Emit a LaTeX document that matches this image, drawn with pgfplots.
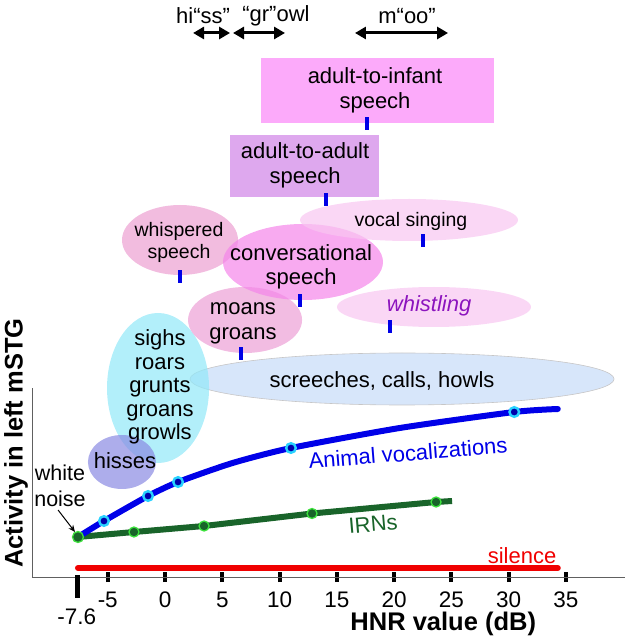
\documentclass[border=0pt]{standalone}
\usepackage{fontspec}
\setmainfont{Liberation Sans}
\usepackage{pgfplots}
\pgfplotsset{compat=1.18}
\usetikzlibrary{arrows.meta}
\definecolor{lineblue}{RGB}{0,0,232}
\definecolor{markblue}{RGB}{0,0,170}
\definecolor{ringcyan}{RGB}{40,210,255}
\definecolor{irngreen}{RGB}{25,100,42}
\definecolor{irnring}{RGB}{60,225,60}
\definecolor{silred}{RGB}{240,0,0}
\definecolor{hnrblue}{RGB}{0,0,230}
\definecolor{boxinfant}{RGB}{252,170,250}
\definecolor{boxadult}{RGB}{222,168,238}
\definecolor{elcyan}{RGB}{145,232,248}
\definecolor{elhiss}{RGB}{138,138,226}
\definecolor{elscreech}{RGB}{198,219,248}
\definecolor{elwhisper}{RGB}{236,160,210}
\definecolor{elmoan}{RGB}{236,160,214}
\definecolor{elconv}{RGB}{245,134,234}
\definecolor{elvocal}{RGB}{248,198,241}
\definecolor{whistlepurple}{RGB}{140,20,190}
\newcommand{\fs}{\fontsize{22}{25}\selectfont}
\begin{document}
\begin{tikzpicture}
\begin{axis}[
  scale only axis, width=593pt, height=189pt,
  xmin=-11.616, xmax=40.17, ymin=0, ymax=189,
  clip=false,
  axis x line=bottom, axis y line=left,
  axis line style={-, draw=gray!75!black, line width=0.8pt},
  ytick=\empty,
  xtick={-5,0,5,10,15,20,25,30,35},
  xticklabels={-5,0,5,10,15,20,25,30,35},
  major tick length=10pt, tick align=center,
  tick style={line width=4pt, black},
  xticklabel style={font=\fontsize{22.5}{26}\selectfont, inner sep=0pt, anchor=north, yshift=-10pt},
]
% ellipses
\fill[elscreech, fill opacity=0.7] (axis cs:20.70,198) ellipse [x radius=212pt, y radius=26pt];
\draw[gray!45, line width=0.6pt] (axis cs:20.70,198) ellipse [x radius=212pt, y radius=26pt];
\fill[elcyan, fill opacity=0.7] (axis cs:-0.61,189) ellipse [x radius=51pt, y radius=75pt];
\fill[elhiss, fill opacity=0.7] (axis cs:-3.76,115) ellipse [x radius=34pt, y radius=27pt];
\fill[elmoan, fill opacity=0.7] (axis cs:6.99,257) ellipse [x radius=57pt, y radius=33pt];
\fill[elwhisper, fill opacity=0.7] (axis cs:1.31,337) ellipse [x radius=58pt, y radius=35pt];
\fill[elconv, fill opacity=0.7] (axis cs:12.05,315) ellipse [x radius=80pt, y radius=38pt];
\fill[elvocal, fill opacity=0.7] (axis cs:21.31,357) ellipse [x radius=109pt, y radius=21pt];
\fill[elvocal, fill opacity=0.7] (axis cs:23.49,270) ellipse [x radius=97pt, y radius=20pt];
% boxes
\fill[boxinfant] (axis cs:8.38,519) rectangle (axis cs:28.73,454);
\fill[boxadult] (axis cs:5.68,442) rectangle (axis cs:18.69,380);
% texts
\node[font=\fs, align=center] at (axis cs:18.34,487) {adult-to-infant\\speech};
\node[font=\fs, align=center] at (axis cs:12.23,411.5) {adult-to-adult\\speech};
\node[font=\fontsize{19.5}{21.5}\selectfont] at (axis cs:21.48,356) {vocal singing};
\node[font=\fontsize{19.5}{21.5}\selectfont, align=center] at (axis cs:1.22,334.5) {whispered\\speech};
\node[font=\fontsize{22}{24}\selectfont, align=center] at (axis cs:11.88,310) {conversational\\speech};
\node[font=\fs\itshape, text=whistlepurple] at (axis cs:23.06,271) {whistling};
\node[font=\fs, align=center] at (axis cs:6.81,253.5) {moans\\groans};
\node[font=\fontsize{22}{23.5}\selectfont, align=center] at (axis cs:-0.44,190) {sighs\\roars\\grunts\\groans\\growls};
\node[font=\fs] at (axis cs:18.95,196) {screeches, calls, howls};
\node[font=\fs] at (axis cs:-3.49,116) {hisses};
\node[font=\fontsize{21.5}{26}\selectfont, align=center] at (axis cs:-9.17,91) {white\\noise};
\draw[-{Stealth[length=7pt,width=6pt]}, line width=1pt] (axis cs:-9.34,67) -- (axis cs:-7.86,45);
% top arrows
\node[font=\fs] at (axis cs:3.32,561) {hi“ss”};
\node[font=\fs] at (axis cs:9.69,561) {“gr”owl};
\node[font=\fs] at (axis cs:21.14,561) {m“oo”};
\draw[{Triangle[length=11pt,width=12pt]}-{Triangle[length=11pt,width=12pt]}, line width=3pt] (axis cs:2.45,544) -- (axis cs:5.68,544);
\draw[{Triangle[length=11pt,width=12pt]}-{Triangle[length=11pt,width=12pt]}, line width=3pt] (axis cs:5.94,544) -- (axis cs:10.48,544);
\draw[{Triangle[length=11pt,width=12pt]}-{Triangle[length=11pt,width=12pt]}, line width=3pt] (axis cs:16.59,544) -- (axis cs:24.72,544);
% HNR value markers of the categories
\addplot[only marks, mark=|, mark size=6.5pt, mark options={hnrblue, line width=4pt}] coordinates {
 (17.64,453) (14.06,377) (22.53,336) (1.31,300) (11.79,276) (19.65,250) (6.64,223)};
% -7.6 start tick (white noise HNR)
\draw[black, line width=5pt] (axis cs:-7.6,2) -- (axis cs:-7.6,-21);
\node[font=\fontsize{22.5}{26}\selectfont] at (axis cs:-7.7,-40) {-7.6};
% silence
\addplot[silred, line width=6pt, line cap=round] coordinates {(-7.6,9) (34.3,9)};
\node[font=\fs, text=silred] at (axis cs:31.18,21) {silence};
% IRNs
\addplot[irngreen, line width=6pt] coordinates {(-7.6,40) (-2.71,45) (3.41,51) (12.84,63.5) (23.67,75) (25.07,76)};
\addplot[only marks, mark=*, mark size=5pt, mark options={fill=irngreen, draw=irnring, line width=1.3pt}] coordinates {(-2.71,45) (3.41,51) (12.84,63.5) (23.67,75)};
\node[font=\fs, text=irngreen, rotate=5] at (axis cs:18.17,53) {IRNs};
% Animal vocalizations
\addplot[lineblue, line width=6pt, smooth, tension=0.4, line cap=round] coordinates {
 (-7.6,40) (-5.33,56) (-1.48,81) (1.14,95) (5.9,114) (11.0,129) (20.5,149) (30.5,165) (34.3,168)};
\addplot[only marks, mark=*, mark size=4.8pt, mark options={fill=markblue, draw=ringcyan, line width=2.4pt}] coordinates {
 (-5.33,56) (-1.48,81) (1.14,95) (11.0,129) (30.5,165)};
\node[font=\fs, text=lineblue, rotate=4.5] at (axis cs:21.22,124) {Animal vocalizations};
% white noise point
\addplot[only marks, mark=*, mark size=5.5pt, mark options={fill=irngreen, draw=irnring, line width=1.3pt}] coordinates {(-7.6,40)};
% axis labels
\node[font=\bfseries\fontsize{25.5}{30}\selectfont] at (axis cs:24.3,-47) {HNR value (dB)};
\node[font=\bfseries\fontsize{25.5}{30}\selectfont, rotate=90] at (axis cs:-13.0,134) {Activity in left mSTG};
\coordinate (bbtl) at (axis cs:-14.41,577);
\coordinate (bbbr) at (axis cs:40.17,-63);
\end{axis}
\pgfresetboundingbox
\path[use as bounding box] (bbtl) rectangle (bbbr);
\end{tikzpicture}
\end{document}
